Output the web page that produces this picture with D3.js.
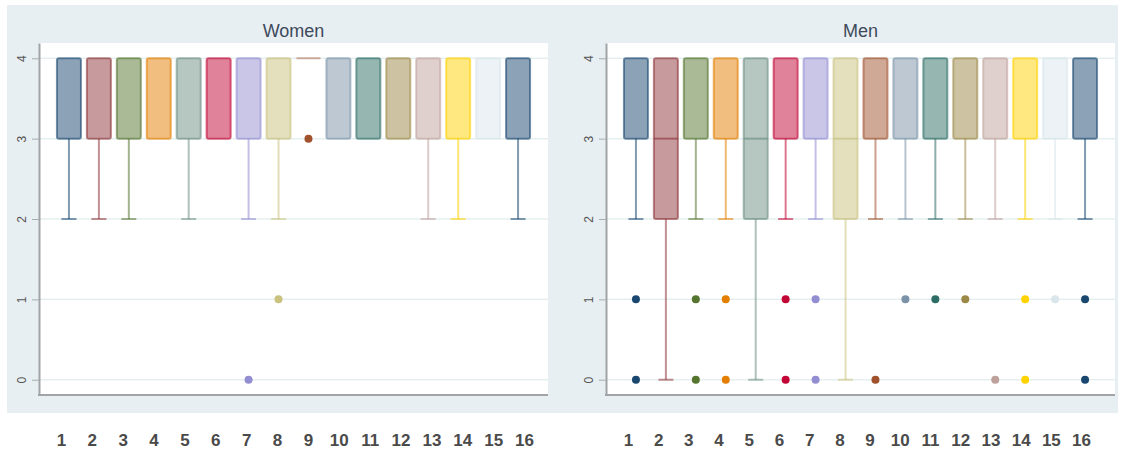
<!DOCTYPE html>
<html>
<head>
<meta charset="utf-8">
<script src="https://cdn.jsdelivr.net/npm/d3@7"></script>
<style>
  body { margin: 0; background: #fff; }
  svg { display: block; }
</style>
</head>
<body>
<div id="chart"></div>
<script>
// groups on the x axis (same for both panels)
const groups = ["1", "2", "3", "4", "5", "6", "7", "8", "9", "10", "11", "12", "13", "14", "15", "16"];
// stata s2color palette, 16th wraps back to navy
const groupColors = ["#1a476f", "#90353b", "#55752f", "#e37e00", "#6e8e84", "#c10534", "#938dd2", "#cac27e",
                     "#a0522d", "#7b92a8", "#2d6d66", "#9c8847", "#bfa19c", "#ffd200", "#d9e6eb", "#1a476f"];
const yTicks = [0, 1, 2, 3, 4];

// Women
const womenQ1     = [3, 3, 3, 3, 3, 3, 3, 3, 4, 3, 3, 3, 3, 3, 3, 3];
const womenMedian = [4, 4, 4, 4, 4, 4, 4, 4, 4, 4, 4, 4, 4, 4, 4, 4];
const womenQ3     = [4, 4, 4, 4, 4, 4, 4, 4, 4, 4, 4, 4, 4, 4, 4, 4];
const womenLow    = [2, 2, 2, 3, 2, 3, 2, 2, 4, 3, 3, 3, 2, 2, 3, 2];
const womenOutliers = [[], [], [], [], [], [], [0], [1], [3], [], [], [], [], [], [], []];

// Men
const menQ1     = [3, 2, 3, 3, 2, 3, 3, 2, 3, 3, 3, 3, 3, 3, 3, 3];
const menMedian = [4, 3, 4, 4, 3, 4, 4, 3, 4, 4, 4, 4, 4, 4, 4, 4];
const menQ3     = [4, 4, 4, 4, 4, 4, 4, 4, 4, 4, 4, 4, 4, 4, 4, 4];
const menLow    = [2, 0, 2, 2, 0, 2, 2, 0, 2, 2, 2, 2, 2, 2, 2, 2];
const menOutliers = [[1, 0], [], [1, 0], [1, 0], [], [1, 0], [1, 0], [], [0], [1], [1], [1], [0], [1, 0], [1], [1, 0]];

const layout = {
    width: 1123,
    height: 455,
    bgLeft: 7, bgTop: 5, bgRight: 1118, bgBottom: 413,
    plotTop: 43, plotBottom: 395,
    labelY: 431,
    boxWidth: 24,
    capWidth: 15
};

const panels = [
    { title: "Women", left: 39, right: 548, q1: womenQ1, med: womenMedian, q3: womenQ3, low: womenLow, out: womenOutliers, labelShift: [-8, 6] },
    { title: "Men", left: 606, right: 1115, q1: menQ1, med: menMedian, q3: menQ3, low: menLow, out: menOutliers, labelShift: [-8, -4] }
];

let svg = d3.select("#chart").append("svg")
    .attr("width", layout.width)
    .attr("height", layout.height)
    .attr("viewBox", [0, 0, layout.width, layout.height].join(" "));

// graph region background
svg.append("rect")
    .attr("x", layout.bgLeft)
    .attr("y", layout.bgTop)
    .attr("width", layout.bgRight - layout.bgLeft)
    .attr("height", layout.bgBottom - layout.bgTop)
    .attr("fill", "#e8eff2");

let yScale = d3.scaleLinear()
    .domain([-0.19, 4.19])
    .range([layout.plotBottom, layout.plotTop]);

panels.forEach(p => {
    let x = d3.scalePoint().domain(groups).range([p.left, p.right]).padding(1);
    let rows = groups.map((g, i) => ({
        g: g, color: groupColors[i],
        q1: p.q1[i], med: p.med[i], q3: p.q3[i], low: p.low[i], out: p.out[i]
    }));

    // white plot region
    svg.append("rect")
        .attr("x", p.left)
        .attr("y", layout.plotTop)
        .attr("width", p.right - p.left)
        .attr("height", layout.plotBottom - layout.plotTop)
        .attr("fill", "white");

    // gridlines
    svg.append("g").selectAll("line").data(yTicks).join("line")
        .attr("x1", p.left).attr("x2", p.right)
        .attr("y1", d => yScale(d)).attr("y2", d => yScale(d))
        .attr("stroke", "#e6efef")
        .attr("stroke-width", 1.5);

    // title
    svg.append("text")
        .attr("x", (p.left + p.right) / 2)
        .attr("y", 37)
        .attr("text-anchor", "middle")
        .attr("font-family", "Liberation Sans, Arial, sans-serif")
        .attr("font-size", 18)
        .attr("fill", "#3d4a5c")
        .text(p.title);

    let g = svg.append("g");

    // lower whiskers
    let whisk = rows.filter(d => d.low < d.q1);
    g.selectAll(".whisker").data(whisk).join("line")
        .attr("class", "whisker")
        .attr("x1", d => x(d.g)).attr("x2", d => x(d.g))
        .attr("y1", d => yScale(d.q1)).attr("y2", d => yScale(d.low))
        .attr("stroke", d => d.color)
        .attr("stroke-opacity", 0.55)
        .attr("stroke-width", 2);
    g.selectAll(".cap").data(whisk).join("line")
        .attr("class", "cap")
        .attr("x1", d => x(d.g) - layout.capWidth / 2).attr("x2", d => x(d.g) + layout.capWidth / 2)
        .attr("y1", d => yScale(d.low)).attr("y2", d => yScale(d.low))
        .attr("stroke", d => d.color)
        .attr("stroke-opacity", 0.55)
        .attr("stroke-width", 2);

    // boxes
    g.selectAll(".box").data(rows.filter(d => d.q1 < d.q3)).join("rect")
        .attr("class", "box")
        .attr("x", d => x(d.g) - layout.boxWidth / 2)
        .attr("y", d => yScale(d.q3))
        .attr("width", layout.boxWidth)
        .attr("height", d => yScale(d.q1) - yScale(d.q3))
        .attr("rx", 2)
        .attr("fill", d => d.color)
        .attr("fill-opacity", 0.5)
        .attr("stroke", d => d.color)
        .attr("stroke-opacity", 0.6)
        .attr("stroke-width", 2);

    // medians (only where not sitting on a box edge, or box collapsed)
    g.selectAll(".median").data(rows.filter(d => (d.med > d.q1 && d.med < d.q3) || d.q1 === d.q3)).join("line")
        .attr("class", "median")
        .attr("x1", d => x(d.g) - layout.boxWidth / 2).attr("x2", d => x(d.g) + layout.boxWidth / 2)
        .attr("y1", d => yScale(d.med)).attr("y2", d => yScale(d.med))
        .attr("stroke", d => d.color)
        .attr("stroke-opacity", d => d.q1 === d.q3 ? 0.45 : 0.6)
        .attr("stroke-width", 2);

    // outside values
    let pts = rows.flatMap(d => d.out.map(v => ({ g: d.g, v: v, color: d.color })));
    g.selectAll(".outlier").data(pts).join("circle")
        .attr("class", "outlier")
        .attr("cx", d => x(d.g))
        .attr("cy", d => yScale(d.v))
        .attr("r", 4)
        .attr("fill", d => d.color);

    // y axis
    let yAxis = svg.append("g")
        .attr("transform", `translate(${p.left},0)`)
        .call(d3.axisLeft(yScale).tickValues(yTicks).tickFormat(d3.format("d")).tickSize(7).tickSizeOuter(0));
    yAxis.select(".domain").attr("stroke", "#a0a4a6").attr("stroke-width", 2);
    yAxis.selectAll(".tick line").attr("stroke", "#a8acae");
    yAxis.selectAll("text")
        .attr("x", 0)
        .attr("dy", "0.35em")
        .attr("transform", "translate(-17,0) rotate(-90)")
        .attr("text-anchor", "middle")
        .attr("font-family", "Liberation Sans, Arial, sans-serif")
        .attr("font-size", 12)
        .attr("fill", "#555");

    // x axis line
    svg.append("line")
        .attr("x1", p.left - 1).attr("x2", p.right)
        .attr("y1", layout.plotBottom).attr("y2", layout.plotBottom)
        .attr("stroke", "#a0a4a6")
        .attr("stroke-width", 2);

    // group labels under the graph region
    let xLabels = d3.scalePoint().domain(groups)
        .range([x(groups[0]) + p.labelShift[0], x(groups[groups.length - 1]) + p.labelShift[1]]);
    let xAxis = svg.append("g")
        .attr("transform", `translate(0,${layout.labelY})`)
        .call(d3.axisBottom(xLabels).tickSize(0));
    xAxis.select(".domain").remove();
    xAxis.selectAll("text")
        .attr("font-family", "Liberation Sans, Arial, sans-serif")
        .attr("font-size", 17)
        .attr("font-weight", "bold")
        .attr("fill", "#4a4a4a");
});
</script>
</body>
</html>
